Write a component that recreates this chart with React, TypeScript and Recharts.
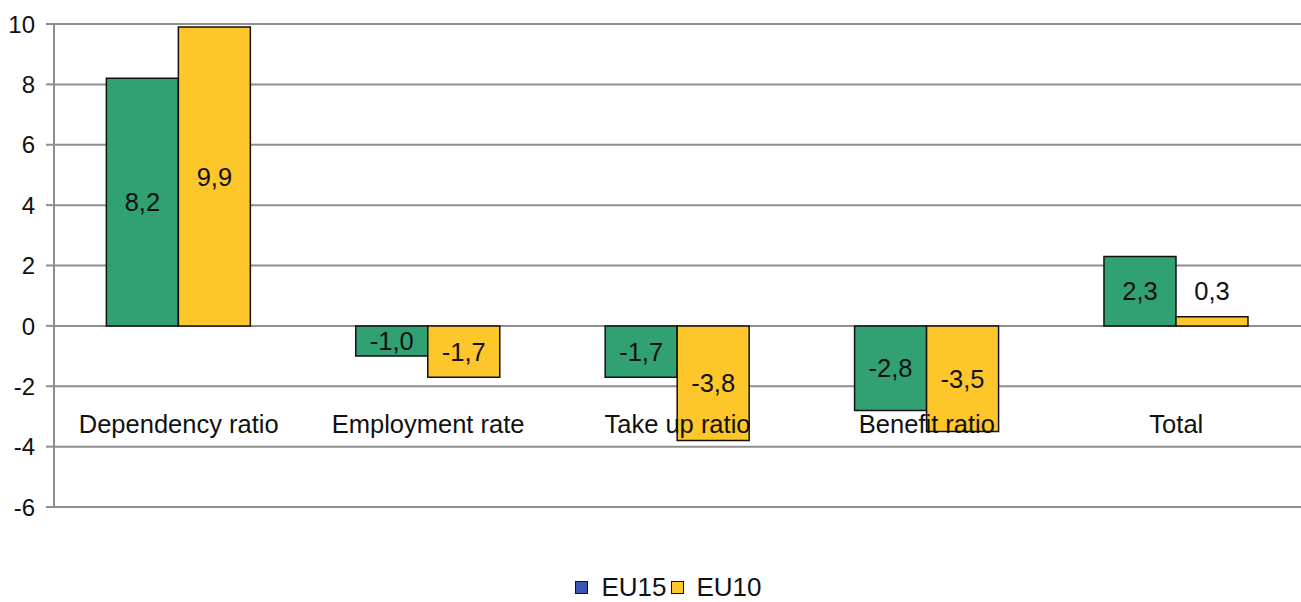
import { BarChart, Bar, XAxis, YAxis, CartesianGrid, LabelList } from "recharts";

const categories = ["Dependency ratio", "Employment rate", "Take up ratio", "Benefit ratio", "Total"];
const eu15 = [8.2, -1.0, -1.7, -2.8, 2.3];
const eu10 = [9.9, -1.7, -3.8, -3.5, 0.3];
const yTicks = [-6, -4, -2, 0, 2, 4, 6, 8, 10];

const GREEN = "#31a072";
const YELLOW = "#fdc72c";
const BLUE = "#3a56b4";
const GRID = "#8e8e8e";
const FONT = "'Liberation Sans', Arial, sans-serif";

const data = categories.map((name, i) => ({ name, eu15: eu15[i], eu10: eu10[i] }));

const fmt = (v: number) => v.toFixed(1).replace(".", ",");

const ValueLabel = (props: any) => {
  const { x, y, width, height, value } = props;
  const top = Math.min(y, y + height);
  const h = Math.abs(height);
  const cx = x + width / 2;
  const cy = h < 30 ? top - 26 : top + h / 2;
  return (
    <text x={cx} y={cy} dy="0.36em" textAnchor="middle" fontSize={25.5} fontFamily={FONT} fill="#111">
      {fmt(value)}
    </text>
  );
};

const CategoryTick = (props: any) => {
  const { x, payload } = props;
  return (
    <text x={x} y={433} textAnchor="middle" fontSize={25.5} fontFamily={FONT} fill="#111">
      {payload.value}
    </text>
  );
};

const ValueTick = (props: any) => {
  const { y, payload } = props;
  return (
    <text x={35} y={y} dy="0.36em" textAnchor="end" fontSize={24} fontFamily={FONT} fill="#111">
      {payload.value}
    </text>
  );
};

export default function App() {
  return (
    <div style={{ position: "absolute", left: 0, top: 0, width: 1301, height: 602, background: "#fff" }}>
      <BarChart
        width={1301}
        height={602}
        data={data}
        margin={{ top: 24, right: 0, left: 0, bottom: 65 }}
        barCategoryGap="21%"
        barGap={0}
      >
        <CartesianGrid vertical={false} stroke={GRID} strokeWidth={2} />
        <XAxis
          dataKey="name"
          height={30}
          axisLine={false}
          tickLine={false}
          tick={<CategoryTick />}
          interval={0}
        />
        <YAxis
          domain={[-6, 10]}
          ticks={yTicks}
          width={54}
          interval={0}
          axisLine={{ stroke: GRID, strokeWidth: 2 }}
          tickLine={{ stroke: GRID, strokeWidth: 2 }}
          tickSize={8}
          tick={<ValueTick />}
        />
        <Bar dataKey="eu15" fill={GREEN} stroke="#111" strokeWidth={1.5} isAnimationActive={false}>
          <LabelList dataKey="eu15" content={<ValueLabel />} />
        </Bar>
        <Bar dataKey="eu10" fill={YELLOW} stroke="#111" strokeWidth={1.5} isAnimationActive={false}>
          <LabelList dataKey="eu10" content={<ValueLabel />} />
        </Bar>
      </BarChart>
      <div
        style={{
          position: "absolute",
          top: 573,
          left: 0,
          width: 1301,
          height: 28,
          lineHeight: "28px",
          display: "flex",
          justifyContent: "center",
          alignItems: "center",
          fontFamily: FONT,
          fontSize: 26,
          color: "#111",
          paddingLeft: 36,
          boxSizing: "border-box",
        }}
      >
        <span style={{ display: "inline-block", width: 11, height: 11, background: BLUE, border: "1px solid #111", marginRight: 13 }} />
        <span style={{ marginRight: 4 }}>EU15</span>
        <span style={{ display: "inline-block", width: 11, height: 11, background: YELLOW, border: "1px solid #111", marginRight: 13 }} />
        <span>EU10</span>
      </div>
    </div>
  );
}
